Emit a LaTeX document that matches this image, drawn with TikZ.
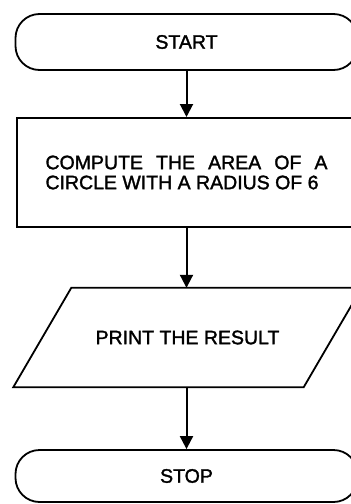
\documentclass[tikz,border=0pt]{standalone}
\usepackage{fontspec}
\setmainfont{Liberation Sans}[FakeBold=1.6]
\usetikzlibrary{arrows.meta}

\begin{document}
\begin{tikzpicture}[x=1pt,y=-1pt]
\tikzset{terminus/.style={draw, rectangle, rounded corners=24pt, line width=1.8pt, minimum width=342pt, inner sep=0pt},
boite/.style={draw, rectangle, line width=2pt, minimum width=340pt, minimum height=109pt, inner sep=0pt},
sortie/.style={rectangle, minimum width=290pt, minimum height=99pt, inner sep=0pt},
fleche/.style={-{Triangle[length=13pt,width=13pt]}, line width=2pt},
every node/.style={font=\fontsize{19.5}{20}\selectfont}}
\clip (0,0) rectangle (351,504);
\node[terminus, minimum height=56pt] (E1) at (186.5,42) {START};
\node[boite, text width=282pt, align=justify] (E2) at (186.5,172.5) {COMPUTE THE AREA OF A\linebreak CIRCLE WITH A RADIUS OF 6};
\node[sortie] (E3) at (187.5,337.5) {PRINT THE RESULT};
\node[terminus, minimum height=52pt] (E4) at (186.5,476) {STOP};
\draw[line width=1.8pt] ([xshift=-29pt]E3.south west) -- ([xshift=29pt]E3.north west) -- ([xshift=29pt]E3.north east) -- ([xshift=-29pt]E3.south east) -- cycle;
\draw[fleche] (E1) -- (E2);
\draw[fleche] (E2) -- (E2 |- E3.north);
\draw[fleche] (E3.south -| E4) -- (E4);
\end{tikzpicture}
\end{document}
